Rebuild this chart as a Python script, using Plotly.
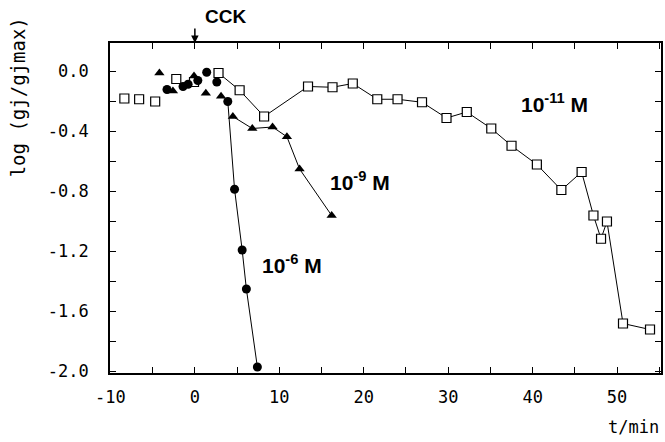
import plotly.graph_objects as go

# 10^-11 M (open squares)
sq_pre_x = [-8.35, -6.6, -4.7, -2.2, -0.1]
sq_pre_y = [-0.18, -0.185, -0.20, -0.05, -0.07]
sq_x = [2.8, 5.3, 8.2, 13.4, 16.3, 18.7, 21.6, 24.0, 26.9, 29.8, 32.2, 35.1, 37.5,
        40.5, 43.4, 45.8, 47.2, 48.1, 48.8, 50.7, 53.9]
sq_y = [-0.01, -0.125, -0.30, -0.10, -0.105, -0.08, -0.185, -0.185, -0.205, -0.31,
        -0.27, -0.38, -0.495, -0.62, -0.79, -0.67, -0.96, -1.115, -1.0, -1.68, -1.72]

# 10^-9 M (filled triangles)
tri_pre_x = [-4.2, -2.6, -0.1, 1.3, 3.1]
tri_pre_y = [-0.01, -0.13, -0.03, -0.145, -0.165]
tri_x = [4.5, 6.8, 9.2, 10.9, 12.4, 16.2]
tri_y = [-0.30, -0.38, -0.37, -0.435, -0.65, -0.96]

# 10^-6 M (filled circles)
cir_pre_x = [-3.3, -1.4, -0.8, 0.35, 1.4, 2.6]
cir_pre_y = [-0.12, -0.10, -0.085, -0.06, -0.005, -0.07]
cir_x = [3.9, 4.7, 5.6, 6.1, 7.4]
cir_y = [-0.20, -0.785, -1.19, -1.45, -1.97]

x_tickvals = [-10, -5, 0, 5, 10, 15, 20, 25, 30, 35, 40, 45, 50, 55]
y_tickvals = [0.0, -0.2, -0.4, -0.6, -0.8, -1.0, -1.2, -1.4, -1.6, -1.8, -2.0]
x_labels = {-10: "-10", 0: "0", 10: "10", 20: "20", 30: "30", 40: "40", 50: "50"}
y_labels = {0.0: "0.0", -0.4: "-0.4", -0.8: "-0.8", -1.2: "-1.2", -1.6: "-1.6", -2.0: "-2.0"}

x_ticktext = [x_labels.get(v, "") for v in x_tickvals]
y_ticktext = [y_labels.get(v, "") for v in y_tickvals]

fig = go.Figure()
line = dict(color="black", width=1)

fig.add_trace(go.Scatter(x=sq_pre_x, y=sq_pre_y, mode="markers",
                         marker=dict(symbol="square", size=9, color="white", line=dict(width=1.2, color="black"))))
fig.add_trace(go.Scatter(x=sq_x, y=sq_y, mode="lines+markers", line=line,
                         marker=dict(symbol="square", size=9, color="white", line=dict(width=1.2, color="black"))))
fig.add_trace(go.Scatter(x=tri_pre_x, y=tri_pre_y, mode="markers",
                         marker=dict(symbol="triangle-up", size=9, color="black")))
fig.add_trace(go.Scatter(x=tri_x, y=tri_y, mode="lines+markers", line=line,
                         marker=dict(symbol="triangle-up", size=9, color="black")))
fig.add_trace(go.Scatter(x=cir_pre_x, y=cir_pre_y, mode="markers",
                         marker=dict(symbol="circle", size=9, color="black")))
fig.add_trace(go.Scatter(x=cir_x, y=cir_y, mode="lines+markers", line=line,
                         marker=dict(symbol="circle", size=9, color="black")))

mono = dict(family="DejaVu Sans Mono", size=17, color="black")
bold = dict(family="Liberation Sans", size=21, color="black")

L, R, T, B = 110, 2, 43, 69
PW, PH = 665 - L - R, 442 - T - B


def px(xp):
    return (xp - L) / PW


def py(yp):
    return 1 - (yp - T) / PH


fig.update_layout(
    width=665, height=442,
    margin=dict(l=L, r=R, t=T, b=B),
    paper_bgcolor="white", plot_bgcolor="white",
    showlegend=False,
    xaxis=dict(range=[-10.05, 55.2], tickvals=x_tickvals, ticktext=x_ticktext,
               ticks="inside", ticklen=6, tickwidth=1.3, tickcolor="black",
               showline=True, linecolor="black", linewidth=1.6, mirror="ticks",
               showgrid=False, zeroline=False, tickfont=mono, ticklabelstandoff=8),
    yaxis=dict(range=[-2.01, 0.19], tickvals=y_tickvals, ticktext=y_ticktext,
               ticks="inside", ticklen=6, tickwidth=1.3, tickcolor="black",
               showline=True, linecolor="black", linewidth=1.6, mirror="ticks",
               showgrid=False, zeroline=False, tickfont=mono, ticklabelstandoff=16),
    annotations=[
        dict(text="<b>CCK</b>", x=px(226), y=py(16), xref="paper", yref="paper", showarrow=False,
             font=dict(family="Liberation Sans", size=19, color="black"),
             xanchor="center", yanchor="middle"),
        dict(text="", x=0, y=1, xref="x", yref="paper", showarrow=True, arrowhead=2,
             arrowsize=1, arrowwidth=1.5, ax=0, ay=-16, arrowcolor="black"),
        dict(text="<b>10<sup>-11</sup> M</b>", x=42.6, y=-0.21, xref="x", yref="y",
             showarrow=False, font=bold),
        dict(text="<b>10<sup>-9</sup> M</b>", x=19.5, y=-0.73, xref="x", yref="y",
             showarrow=False, font=bold),
        dict(text="<b>10<sup>-6</sup> M</b>", x=11.5, y=-1.28, xref="x", yref="y",
             showarrow=False, font=bold),
        dict(text="log (gj/gjmax)", x=px(18), y=py(97), xref="paper", yref="paper",
             textangle=-90, showarrow=False, font=dict(family="DejaVu Sans Mono", size=19, color="black"),
             xanchor="center", yanchor="middle"),
        dict(text="t/min", x=px(663), y=py(427), xref="paper", yref="paper",
             showarrow=False, font=mono, xanchor="right", yanchor="middle"),
    ],
)

fig.write_html("out.html")
